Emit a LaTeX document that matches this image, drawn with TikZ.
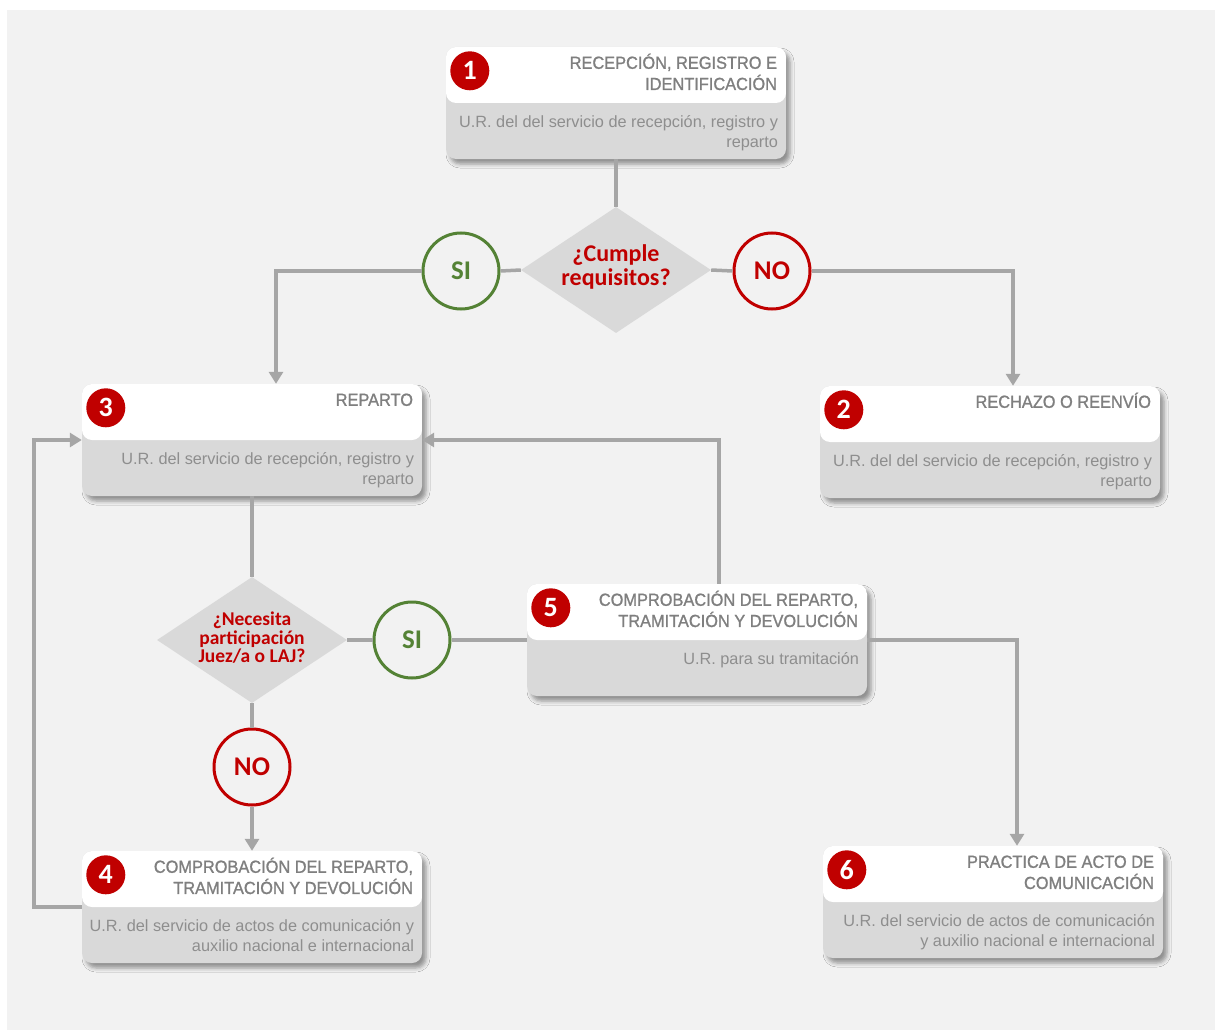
\documentclass[tikz,border=0pt]{standalone}
\usepackage{fontspec}
\setmainfont{Liberation Sans}
\newfontfamily\headfam[FakeStretch=0.935,FakeBold=1.1]{Liberation Sans}
\newfontfamily\bodyfam{Liberation Sans}
\newfontfamily\calfam{Carlito}
\usetikzlibrary{shapes.geometric,arrows.meta,calc,shadows.blur}

\definecolor{pagebg}{HTML}{F2F2F2}
\definecolor{boxgray}{HTML}{D9D9D9}
\definecolor{linegray}{HTML}{A6A6A6}
\definecolor{headgray}{HTML}{7F7F7F}
\definecolor{bodygray}{HTML}{8E8E8E}
\definecolor{alertred}{HTML}{C00000}
\definecolor{okgreen}{HTML}{548235}

% one process box: name, centre, number, title lines, body lines
\newcommand\flowbox[5]{%
  \node[procbox] (#1) at (#2) {};
  \node[numdot] (#1n) at ($(#1.north west)+(24,24)$) {#3};
  \node[titletext] (#1t) at ($(#1.north east)+(-9,22)$)
    {\begin{tabular}[t]{@{}r@{}}#4\end{tabular}};
  \node[bodytext] (#1b) at ($(#1.north east)+(-8,81)$)
    {\begin{tabular}[t]{@{}r@{}}#5\end{tabular}};
}

\begin{document}
\begin{tikzpicture}[x=1pt,y=-1pt,
  procbox/.style={rectangle, rounded corners=10pt, minimum width=340pt,
    minimum height=112pt, inner sep=0pt, fill=boxgray,
    blur shadow={shadow xshift=4pt, shadow yshift=-5pt, shadow opacity=40,
      shadow blur radius=4pt},
    path picture={\fill[white] (path picture bounding box.north west)
      rectangle ([yshift=-56pt]path picture bounding box.north east);}},
  numdot/.style={circle, fill=alertred, minimum size=39pt, inner sep=0pt,
    text=white, font=\calfam\bfseries\fontsize{28}{28}\selectfont},
  titletext/.style={anchor=base east, inner sep=0pt, text=headgray,
    font=\headfam\fontsize{17.5}{20}\selectfont},
  bodytext/.style={anchor=base east, inner sep=0pt, text=bodygray,
    font=\bodyfam\fontsize{16.3}{20}\selectfont},
  decision/.style={diamond, fill=boxgray, minimum width=190pt,
    minimum height=126pt, inner sep=0pt},
  asktext/.style={align=center, inner sep=0pt, text=alertred},
  answer/.style={circle, line width=3pt, fill=pagebg, minimum size=76pt,
    inner sep=0pt, font=\calfam\bfseries\fontsize{27}{27}\selectfont},
  yesans/.style={answer, draw=okgreen, text=okgreen},
  noans/.style={answer, draw=alertred, text=alertred},
  link/.style={draw=linegray, line width=3.5pt},
  arrowlink/.style={link, -{Triangle[width=14pt,length=12pt]}}
]
\useasboundingbox (0,0) rectangle (1215,1030);
\fill[white] (0,0) rectangle (1215,1030);
\fill[pagebg] (7,10) rectangle (1215,1030);

% decisions and their answers
\node[decision] (d1) at (616,270) {};
\node[decision] (d2) at (252,640) {};
\node[yesans] (si1) at (461,271) {SI};
\node[noans] (no1) at (772,271) {NO};
\node[yesans] (si2) at (412,640) {SI};
\node[noans] (no2) at (252,767) {NO};

\node[asktext, font=\calfam\bfseries\fontsize{24}{24}\selectfont] (q1) at (616,267)
  {¿Cumple\\requisitos?};
\node[asktext, font=\calfam\bfseries\fontsize{19.5}{18.5}\selectfont] (q2) at (252,638)
  {¿Necesita\\participación\\Juez/a o LAJ?};

\flowbox{b1}{616,103}{1}{RECEPCIÓN, REGISTRO E\\IDENTIFICACIÓN}
  {U.R. del del servicio de recepción, registro y\\reparto}
\flowbox{b2}{990,442}{2}{RECHAZO O REENVÍO}
  {U.R. del del servicio de recepción, registro y\\reparto}
\flowbox{b3}{252,440}{3}{REPARTO}
  {U.R. del servicio de recepción, registro y\\reparto}
\flowbox{b4}{252,907}{4}{COMPROBACIÓN DEL REPARTO,\\TRAMITACIÓN Y DEVOLUCIÓN}
  {U.R. del servicio de actos de comunicación y\\auxilio nacional e internacional}
\flowbox{b5}{697,640}{5}{COMPROBACIÓN DEL REPARTO,\\TRAMITACIÓN Y DEVOLUCIÓN}
  {U.R. para su tramitación}
\flowbox{b6}{993,902}{6}{PRACTICA DE ACTO DE\\COMUNICACIÓN}
  {U.R. del servicio de actos de comunicación\\y auxilio nacional e internacional}

\coordinate (loopx) at (34,0);

% connectors
\draw[link] (b1.south) -- (d1.north);
\draw[link] (d1.west) -- (si1.east);
\draw[arrowlink] (si1.west) -| ([xshift=24pt]b3.north);
\draw[link] (d1.east) -- (no1.west);
\draw[arrowlink] (no1.east) -| ([xshift=23pt]b2.north);
\draw[link] (b3.south) -- (d2.north);
\draw[link] (d2.east) -- (si2.west);
\draw[link] (si2.east) -- (b5.west);
\draw[arrowlink] ([xshift=22pt]b5.north) |- (b3.east);
\draw[link] (d2.south) -- (no2.north);
\draw[arrowlink] (no2.south) -- (b4.north);
\draw[arrowlink] (b4.west) -- (b4.west -| loopx) |- (b3.west);
\draw[arrowlink] (b5.east) -| ([xshift=24pt]b6.north);
\end{tikzpicture}
\end{document}
